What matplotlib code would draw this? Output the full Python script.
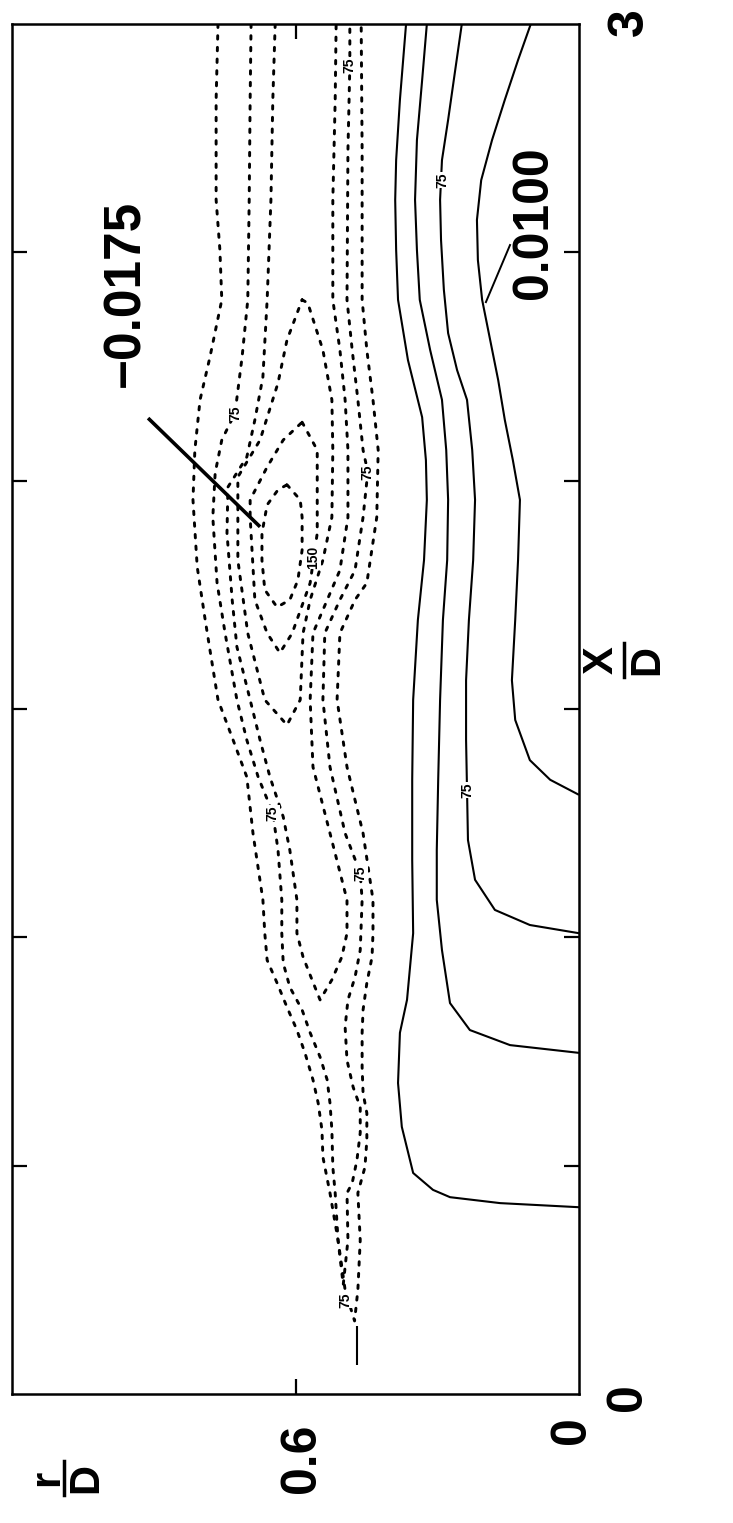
import matplotlib.pyplot as plt
from matplotlib.lines import Line2D

# contour lines: x/D along the jet, r/D across it
s1_x = [3.000, 2.834, 2.702, 2.615, 2.505, 2.396, 2.264, 2.139, 2.045, 1.958, 1.826, 1.695, 1.520,
        1.345, 1.169, 1.009, 0.863, 0.791, 0.681, 0.585, 0.484, 0.447, 0.431, 0.418, 0.409]
s1_r = [0.366, 0.379, 0.387, 0.389, 0.387, 0.383, 0.362, 0.332, 0.324, 0.322, 0.328, 0.341, 0.351,
        0.353, 0.353, 0.351, 0.364, 0.379, 0.383, 0.375, 0.351, 0.309, 0.273, 0.167, 0.0]

s2_x = [3.000, 2.877, 2.746, 2.615, 2.505, 2.396, 2.286, 2.177, 2.067, 1.958, 1.826, 1.695, 1.520,
        1.345, 1.191, 1.082, 0.972, 0.856, 0.797, 0.764, 0.747]
s2_r = [0.322, 0.332, 0.343, 0.347, 0.343, 0.337, 0.315, 0.290, 0.281, 0.277, 0.279, 0.288, 0.294,
        0.298, 0.301, 0.301, 0.290, 0.273, 0.231, 0.146, 0.0]

s3_x = [3.000, 2.899, 2.790, 2.702, 2.615, 2.527, 2.418, 2.323, 2.242, 2.177, 2.067, 1.958, 1.826,
        1.695, 1.563, 1.432, 1.323, 1.213, 1.126, 1.060, 1.027, 1.009]
s3_r = [0.248, 0.262, 0.277, 0.290, 0.294, 0.292, 0.286, 0.277, 0.258, 0.237, 0.226, 0.220, 0.224,
        0.233, 0.239, 0.239, 0.237, 0.235, 0.220, 0.178, 0.104, 0.0]

s4_x = [3.000, 2.921, 2.834, 2.746, 2.658, 2.571, 2.483, 2.396, 2.308, 2.220, 2.133, 2.045, 1.958,
        1.826, 1.695, 1.563, 1.476, 1.388, 1.345, 1.312]
s4_r = [0.102, 0.129, 0.157, 0.184, 0.207, 0.216, 0.214, 0.205, 0.188, 0.171, 0.157, 0.140, 0.125,
        0.129, 0.135, 0.142, 0.135, 0.104, 0.061, 0.0]

# short trailing piece of the shear layer near the nozzle lip
tail_x = [0.150, 0.064]
tail_r = [0.470, 0.470]

d05_x = [3.000, 2.834, 2.615, 2.505, 2.396, 2.271, 2.177, 2.067, 1.958, 1.811, 1.701, 1.629, 1.520,
         1.432, 1.351, 1.228, 1.082, 1.009, 0.950, 0.900, 0.847, 0.797, 0.747, 0.688, 0.637, 0.578,
         0.519, 0.440, 0.337, 0.228, 0.160,
         0.228, 0.337, 0.440, 0.497, 0.556, 0.615, 0.659, 0.716, 0.791, 0.841, 0.900, 0.957, 1.009,
         1.082, 1.228, 1.373, 1.520, 1.666, 1.739, 1.776, 1.920, 2.067, 2.177, 2.286, 2.396, 2.724, 3.000]
d05_r = [0.764, 0.768, 0.768, 0.760, 0.756, 0.781, 0.802, 0.813, 0.817, 0.808, 0.792, 0.781, 0.764,
         0.732, 0.703, 0.690, 0.669, 0.665, 0.660, 0.639, 0.618, 0.597, 0.580, 0.563, 0.552, 0.544,
         0.542, 0.527, 0.510, 0.495, 0.475,
         0.468, 0.463, 0.468, 0.453, 0.449, 0.449, 0.457, 0.459, 0.459, 0.457, 0.449, 0.438, 0.436,
         0.436, 0.457, 0.491, 0.512, 0.506, 0.474, 0.449, 0.428, 0.425, 0.436, 0.449, 0.459, 0.459, 0.461]

d075_x = [3.000, 2.834, 2.615, 2.396, 2.271, 2.148, 2.089, 2.017, 1.920, 1.776, 1.666, 1.520, 1.432,
          1.351, 1.272, 1.191, 1.082, 1.009, 0.944, 0.891, 0.841, 0.791, 0.738, 0.688, 0.637, 0.578,
          0.497, 0.440, 0.337, 0.239,
          0.337, 0.440, 0.462, 0.512, 0.572, 0.628, 0.672, 0.731, 0.804, 0.863, 0.913, 0.972, 1.082,
          1.141, 1.228, 1.373, 1.520, 1.666, 1.739, 1.804, 1.920, 2.019, 2.067, 2.177, 2.286, 2.396,
          2.724, 2.909, 3.000]
d075_r = [0.694, 0.696, 0.698, 0.701, 0.713, 0.728, 0.756, 0.770, 0.775, 0.766, 0.749, 0.724, 0.703,
          0.679, 0.648, 0.637, 0.629, 0.629, 0.626, 0.612, 0.586, 0.569, 0.548, 0.533, 0.527, 0.523,
          0.521, 0.516, 0.510, 0.499,
          0.489, 0.491, 0.480, 0.470, 0.463, 0.463, 0.478, 0.491, 0.495, 0.489, 0.474, 0.463, 0.459,
          0.463, 0.495, 0.527, 0.542, 0.538, 0.506, 0.474, 0.457, 0.447, 0.457, 0.468, 0.480, 0.491,
          0.489, 0.485, 0.485]

d100_x = [3.000, 2.834, 2.615, 2.396, 2.227, 2.133, 2.052, 1.986, 1.885, 1.739, 1.636, 1.520, 1.432,
          1.351, 1.264, 1.191, 1.082, 1.009, 0.957, 0.907, 0.863,
          0.907, 0.957, 1.009, 1.082, 1.228, 1.373, 1.520, 1.666, 1.804, 1.920, 2.067, 2.177, 2.286,
          2.396, 2.615, 2.834, 3.000]
d100_r = [0.643, 0.648, 0.652, 0.660, 0.669, 0.686, 0.703, 0.743, 0.745, 0.734, 0.724, 0.696, 0.675,
          0.654, 0.626, 0.612, 0.597, 0.597, 0.584, 0.565, 0.548,
          0.523, 0.502, 0.491, 0.491, 0.527, 0.563, 0.569, 0.563, 0.506, 0.489, 0.489, 0.495, 0.506,
          0.521, 0.521, 0.516, 0.514]

d125_x = [2.396, 2.389, 2.286, 2.177, 2.067, 1.920, 1.826, 1.739, 1.666, 1.520, 1.465, 1.520, 1.666,
          1.826, 1.920, 2.008, 2.089, 2.214, 2.308, 2.396]
d125_r = [0.586, 0.574, 0.542, 0.523, 0.521, 0.523, 0.542, 0.569, 0.584, 0.590, 0.618, 0.665, 0.701,
          0.722, 0.722, 0.722, 0.675, 0.637, 0.618, 0.586]

d150_x = [2.128, 2.067, 1.885, 1.776, 1.695, 1.666, 1.623, 1.666, 1.739, 1.920, 1.958, 2.030, 2.089, 2.128]
d150_r = [0.586, 0.554, 0.554, 0.569, 0.597, 0.607, 0.633, 0.660, 0.686, 0.696, 0.696, 0.660, 0.626, 0.586]

d175_x = [1.991, 1.958, 1.920, 1.848, 1.782, 1.739, 1.723, 1.761, 1.826, 1.885, 1.947, 1.980, 1.991]
d175_r = [0.618, 0.590, 0.586, 0.586, 0.595, 0.612, 0.639, 0.665, 0.671, 0.671, 0.660, 0.637, 0.618]

# inline contour labels (text, x/D, r/D)
label_text = ["75", "75", "75", "75", "75", "75", "75", "75", "150"]
label_x = [2.658, 1.323, 2.148, 2.019, 1.272, 1.141, 2.910, 0.206, 1.833]
label_r = [0.290, 0.237, 0.728, 0.447, 0.648, 0.463, 0.485, 0.495, 0.563]

W, H = 733, 1523
AX_L, AX_R, AX_T, AX_B = 12, 579, 24, 1394
FONT = "Liberation Sans"


def fig_xy(px, py):
    return px / W, 1 - py / H


def main():
    fig = plt.figure(figsize=(W / 100, H / 100), dpi=100)
    ax = fig.add_axes([AX_L / W, 1 - AX_B / H, (AX_R - AX_L) / W, (AX_B - AX_T) / H])
    # picture is the r-x plane turned a quarter turn: r runs leftwards, x runs upwards
    ax.set_xlim(1.2, 0)
    ax.set_ylim(0, 3)

    solid = dict(color="black", lw=1.5, solid_capstyle="butt")
    for xs, rs in [(s1_x, s1_r), (s2_x, s2_r), (s3_x, s3_r), (s4_x, s4_r), (tail_x, tail_r)]:
        ax.plot(rs, xs, **solid)

    for xs, rs in [(d05_x, d05_r), (d075_x, d075_r), (d100_x, d100_r),
                   (d125_x, d125_r), (d150_x, d150_r), (d175_x, d175_r)]:
        ax.plot(rs, xs, color="black", lw=2.1, linestyle=(0, (1.2, 2.8)),
                dash_capstyle="round")

    for t, x, r in zip(label_text, label_x, label_r):
        ax.text(r, x, t, rotation=90, ha="center", va="center", fontsize=10,
                fontweight="bold", family=FONT,
                bbox=dict(fc="white", ec="none", pad=0.4))

    # level callouts
    ax.plot([0.912, 0.675], [2.137, 1.899], color="black", lw=2.6, solid_capstyle="butt")
    ax.text(0.960, 2.41, "\u22120.0175", rotation=90, ha="center", va="center",
            fontsize=37, fontweight="bold", family=FONT)
    ax.plot([0.146, 0.197], [2.516, 2.391], color="black", lw=1.4)
    ax.text(0.095, 2.566, "0.0100", rotation=90, ha="center", va="center",
            fontsize=36, fontweight="bold", family=FONT)

    # inward ticks on all four sides, labels drawn by hand
    ax.set_yticks([0.5, 1.0, 1.5, 2.0, 2.5])
    ax.set_xticks([0.6])
    ax.tick_params(direction="in", length=11, width=1.6, left=True, right=True,
                   top=True, bottom=True, labelleft=False, labelbottom=False)
    for sp in ax.spines.values():
        sp.set_linewidth(1.8)

    lab = dict(rotation=90, ha="center", va="center", fontsize=36,
               fontweight="bold", family=FONT)
    fig.text(*fig_xy(628, 1397), "0", **lab)
    fig.text(*fig_xy(630, 22), "3", **lab)
    fig.text(*fig_xy(572, 1430), "0", **lab)
    fig.text(*fig_xy(302, 1458), "0.6", **lab)

    # x/D and r/D as stacked fractions, turned with the plot
    frac = dict(lab, fontsize=30)
    fig.text(*fig_xy(602, 660), "X", **frac)
    fig.text(*fig_xy(647, 660), "D", **frac)
    fig.add_artist(Line2D([624 / W, 624 / W], [1 - 643 / H, 1 - 677 / H], color="black", lw=2.5))
    fig.text(*fig_xy(47, 1478), "r", **frac)
    fig.text(*fig_xy(86, 1478), "D", **frac)
    fig.add_artist(Line2D([64 / W, 64 / W], [1 - 1461 / H, 1 - 1495 / H], color="black", lw=2.5))

    fig.savefig("out.png", dpi=100)
    plt.close(fig)


if __name__ == "__main__":
    main()
